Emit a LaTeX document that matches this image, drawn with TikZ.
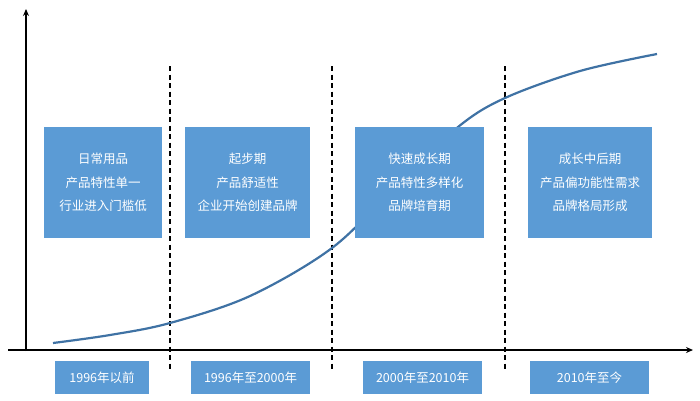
\documentclass[tikz,border=0pt]{standalone}
\usepackage{fontspec}
\setmainfont{Noto Sans CJK SC}
\usetikzlibrary{arrows.meta}
\begin{document}
\begin{tikzpicture}[x=1pt,y=-1pt,
  stagebox/.style={fill=boxblue,text=white,inner sep=0pt,font=\fontsize{12.5}{23.5}\selectfont,align=center},
  yearbox/.style={fill=boxblue,text=white,inner sep=0pt,font=\fontsize{12.5}{14}\selectfont},
  axis/.style={line width=2pt,-{Stealth[length=7pt,width=6pt]}},
  divider/.style={line width=2pt,dash pattern=on 5pt off 3.5pt},
  growth/.style={line width=2.2pt,curveblue}]
\definecolor{boxblue}{HTML}{5B9BD5}
\definecolor{curveblue}{HTML}{3F72A4}
\useasboundingbox (0,0) rectangle (700,400);
% axes
\coordinate (xs) at (8,350);
\coordinate (xe) at (693,350);
\coordinate (ys) at (26,351);
\coordinate (ye) at (26,9);
\draw[axis] (xs) -- (xe);
\draw[axis] (ys) -- (ye);
% dividers
\foreach \n/\x in {d1/170,d2/332,d3/505}{
  \coordinate (\n t) at (\x,66);
  \coordinate (\n b) at (\x,371);
  \draw[divider] (\n t) -- (\n b);
}
% growth curve
\draw[growth] plot[smooth,tension=0.55] coordinates {(53,343) (110,335) (170,323) (250,296) (332,248) (395,187) (458,127) (505,98) (580,71) (657,54)};
% stage boxes
\node[stagebox,minimum width=118pt,minimum height=111pt] (s1) at (103,182.5) {日常用品\\产品特性单一\\行业进入门槛低};
\node[stagebox,minimum width=125pt,minimum height=111pt] (s2) at (247.5,182.5) {起步期\\产品舒适性\\企业开始创建品牌};
\node[stagebox,minimum width=129pt,minimum height=111pt] (s3) at (419.5,182.5) {快速成长期\\产品特性多样化\\品牌培育期};
\node[stagebox,minimum width=124pt,minimum height=111pt] (s4) at (590,182.5) {成长中后期\\产品偏功能性需求\\品牌格局形成};
% year boxes
\node[yearbox,minimum width=94pt,minimum height=33pt] (y1) at (102,377.5) {1996年以前};
\node[yearbox,minimum width=119pt,minimum height=33pt] (y2) at (250.5,377.5) {1996年至2000年};
\node[yearbox,minimum width=119pt,minimum height=33pt] (y3) at (422.5,377.5) {2000年至2010年};
\node[yearbox,minimum width=119pt,minimum height=33pt] (y4) at (589.5,377.5) {2010年至今};
\end{tikzpicture}
\end{document}
